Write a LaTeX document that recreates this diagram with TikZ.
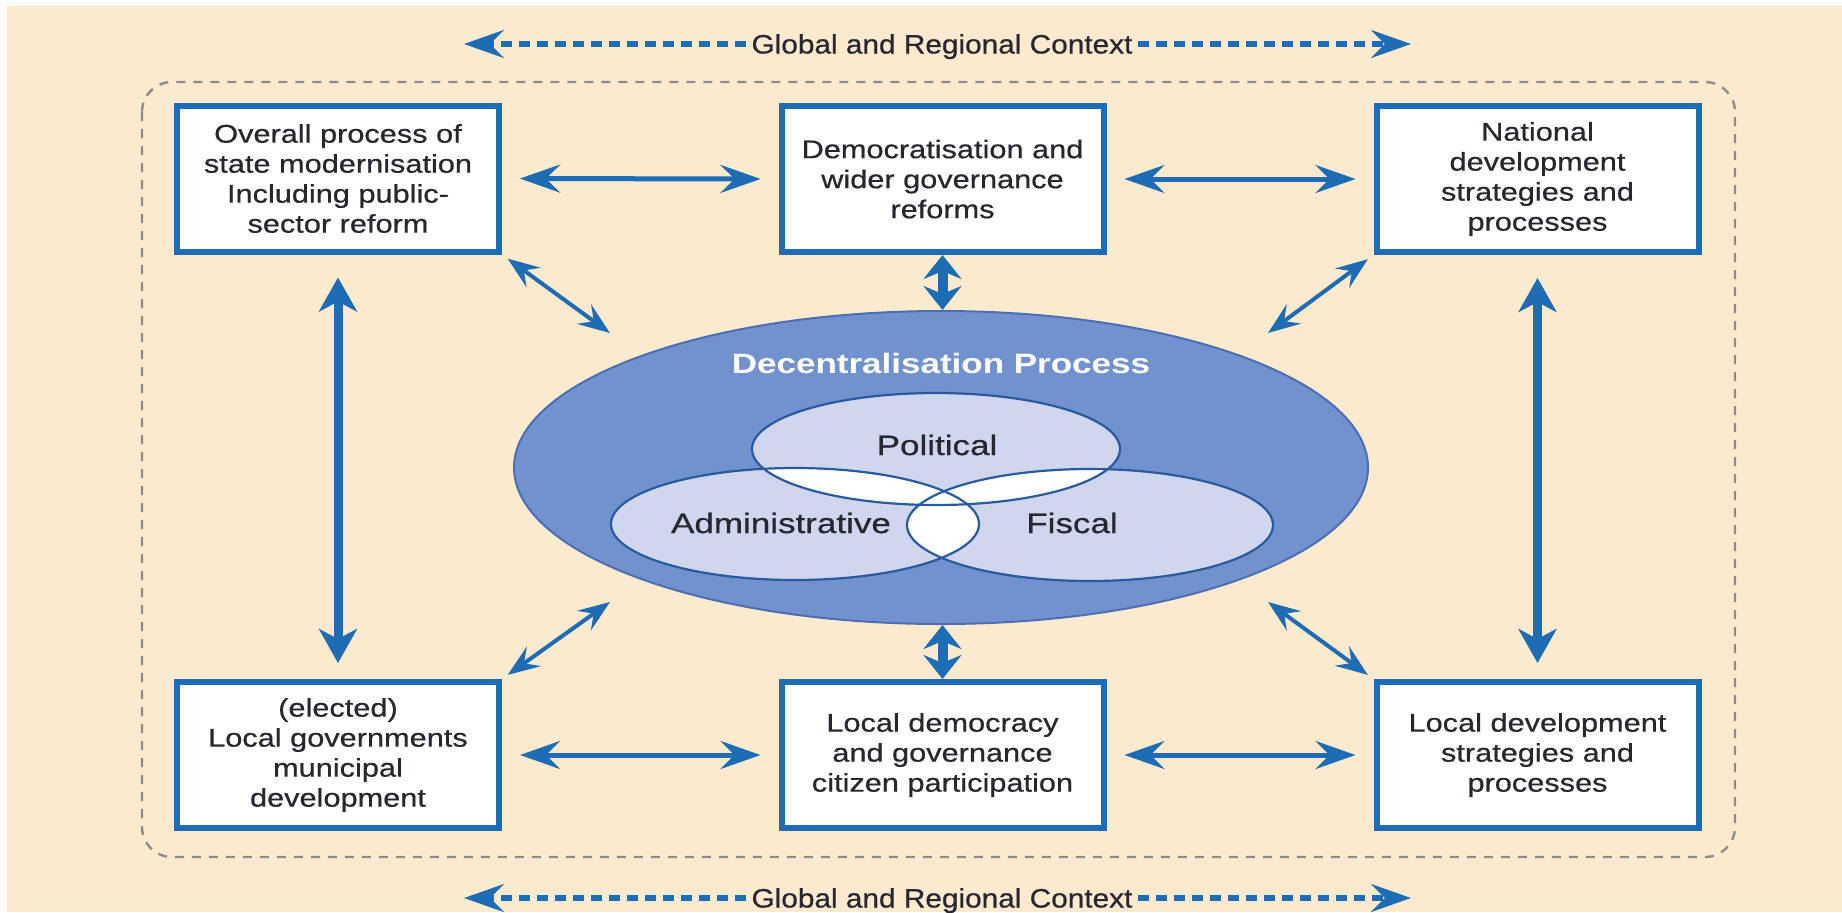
\documentclass[tikz,border=0pt]{standalone}
\usepackage{fontspec}
\setmainfont{Liberation Sans}
\newfontfamily\boxfont[FakeStretch=1.2,FakeBold=0.6]{Liberation Sans}
\newfontfamily\ellfont[FakeStretch=1.25,FakeBold=0.6]{Liberation Sans}
\newfontfamily\decfont[FakeStretch=1.25]{Liberation Sans}
\newfontfamily\ctxfont[FakeStretch=1.12,FakeBold=0.6]{Liberation Sans}
\usetikzlibrary{arrows.meta,shapes.geometric}
\definecolor{bg}{RGB}{252,234,206}
\definecolor{myblue}{RGB}{30,108,180}
\definecolor{bigell}{RGB}{114,146,207}
\definecolor{bigline}{RGB}{75,110,180}
\definecolor{smallell}{RGB}{208,214,238}
\definecolor{smallline}{RGB}{40,90,160}
\definecolor{txt}{RGB}{40,38,46}
\definecolor{rectgray}{RGB}{140,140,140}
\begin{document}
\begin{tikzpicture}[x=0.5pt,y=-0.5pt,
  box/.style={draw=myblue, line width=3pt, fill=white, minimum width=161pt,
    minimum height=73pt, inner sep=0pt, align=center, text=txt,
    font=\boxfont\fontsize{12.8}{15}\selectfont},
  harrow/.style={draw=myblue, line width=2.5pt,
    {Stealth[length=20pt,width=14pt,inset=7pt]}-{Stealth[length=20pt,width=14pt,inset=7pt]},
    shorten >=9pt, shorten <=9pt},
  varrow/.style={draw=myblue, line width=4.5pt,
    {Stealth[length=17pt,width=19pt,inset=5pt]}-{Stealth[length=17pt,width=19pt,inset=5pt]}},
  sarrow/.style={draw=myblue, line width=5pt,
    {Stealth[length=12pt,width=19pt,inset=4pt]}-{Stealth[length=12pt,width=19pt,inset=4pt]}},
  darrow/.style={draw=myblue, line width=2pt,
    {Stealth[length=16pt,width=12pt,inset=6pt]}-{Stealth[length=16pt,width=12pt,inset=6pt]}},
  garrow/.style={draw=myblue, line width=2.6pt, dash pattern=on 5.5pt off 3.5pt,
    -{Stealth[length=20pt,width=14pt,inset=7pt]}},
  ctx/.style={text=txt, font=\ctxfont\fontsize{13.3}{15}\selectfont,
    text height=9.5pt, text depth=0pt, inner sep=2.5pt},
  lab/.style={text=txt, font=\ellfont\fontsize{14}{16}\selectfont,
    text height=10pt, text depth=0pt, inner sep=0pt},
  smallout/.style={draw=smallline, line width=1.1pt}
]
\useasboundingbox (0,0) rectangle (1842,912);
\fill[white] (0,0) rectangle (1842,912);
\fill[bg] (7,6) rectangle (1842,912);

% outer dashed frame
\draw[rectgray, line width=1.2pt, dash pattern=on 4.5pt off 4pt, rounded corners=15pt]
  (142,82) rectangle (1735,857);

% context labels and arrows
\node[ctx] (gt) at (942,44) {Global and Regional Context};
\node[ctx] (gb) at (942,898) {Global and Regional Context};
\coordinate (gtl) at (464,44);
\coordinate (gtr) at (1411,44);
\coordinate (gbl) at (464,898);
\coordinate (gbr) at (1411,898);
\draw[garrow] (gt.west) -- (gtl);
\draw[garrow] (gt.east) -- (gtr);
\draw[garrow] (gb.west) -- (gbl);
\draw[garrow] (gb.east) -- (gbr);

% decentralisation ellipse
\node[ellipse, draw=bigline, line width=1pt, fill=bigell, minimum width=427pt,
  minimum height=156.5pt, inner sep=0pt] (proc) at (941,467.5) {};

% inner ellipses
\fill[smallell] (936,449) ellipse [x radius=92pt, y radius=28pt];
\fill[smallell] (795,524) ellipse [x radius=92pt, y radius=28pt];
\fill[smallell] (1090,525) ellipse [x radius=91.5pt, y radius=28pt];
\begin{scope}
  \clip (936,449) ellipse [x radius=92pt, y radius=28pt];
  \fill[white] (795,524) ellipse [x radius=92pt, y radius=28pt];
  \fill[white] (1090,525) ellipse [x radius=91.5pt, y radius=28pt];
\end{scope}
\begin{scope}
  \clip (795,524) ellipse [x radius=92pt, y radius=28pt];
  \fill[white] (1090,525) ellipse [x radius=91.5pt, y radius=28pt];
\end{scope}
\draw[smallout] (936,449) ellipse [x radius=92pt, y radius=28pt];
\draw[smallout] (795,524) ellipse [x radius=92pt, y radius=28pt];
\draw[smallout] (1090,525) ellipse [x radius=91.5pt, y radius=28pt];

\node[lab, text=white, font=\decfont\bfseries\fontsize{14}{16}\selectfont] (ldec) at (941,363) {Decentralisation Process};
\node[lab] (lpol) at (937,445) {Political};
\node[lab] (ladm) at (781,523) {Administrative};
\node[lab] (lfis) at (1072,523) {Fiscal};

% boxes
\node[box] (b1) at (338,178.5) {Overall process of\\state modernisation\\Including public-\\sector reform};
\node[box] (b2) at (942.5,179) {Democratisation and\\wider governance\\reforms};
\node[box] (b3) at (1537.5,179) {National\\development\\strategies and\\processes};
\node[box] (b4) at (338,755) {(elected)\\Local governments\\municipal\\development};
\node[box] (b5) at (942.5,755) {Local democracy\\and governance\\citizen participation};
\node[box] (b6) at (1537.5,755) {Local development\\strategies and\\processes};

% horizontal arrows
\draw[harrow] (b1.east) -- (b2.west);
\draw[harrow] (b2.east) -- (b3.west);
\draw[harrow] (b4.east) -- (b5.west);
\draw[harrow] (b5.east) -- (b6.west);

% vertical arrows
\draw[varrow, shorten <=11.5pt, shorten >=8pt] (b1.south) -- (b4.north);
\draw[varrow, shorten <=11.5pt, shorten >=8pt] (b3.south) -- (b6.north);

% short arrows to the ellipse
\draw[sarrow] (b2.south) -- (b2.south |- proc.north);
\draw[sarrow] (b5.north |- proc.south) -- (b5.north);

% diagonal arrows
\coordinate (e1) at (610,333);
\coordinate (e3) at (1268,333);
\coordinate (e4) at (610,602);
\coordinate (e6) at (1268,602);
\draw[darrow, shorten <=3.5pt] (b1.south east) -- (e1);
\draw[darrow, shorten <=3.5pt] (b3.south west) -- (e3);
\draw[darrow, shorten <=3.5pt] (b4.north east) -- (e4);
\draw[darrow, shorten <=3.5pt] (b6.north west) -- (e6);
\end{tikzpicture}
\end{document}
